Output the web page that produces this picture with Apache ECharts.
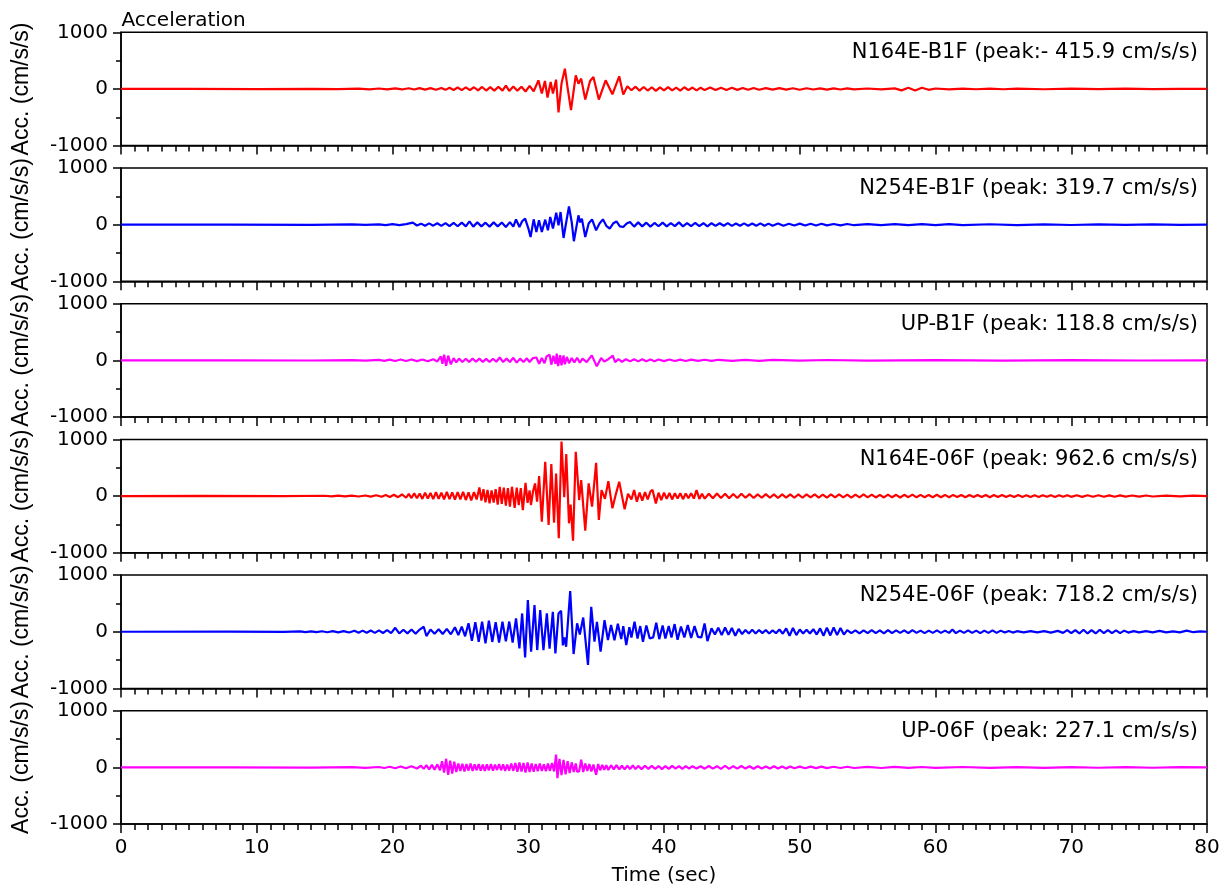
<!DOCTYPE html>
<html>
<head>
<meta charset="utf-8">
<script src="https://cdn.jsdelivr.net/npm/echarts@6/dist/echarts.min.js"></script>
<style>
  html, body { margin: 0; padding: 0; background: #fff; }
  #chart { width: 1229px; height: 890px; }
</style>
</head>
<body>
<div id="chart"></div>
<script>
// Acceleration records, [time (sec), acceleration (cm/s/s)] at successive turning points.
const n164eB1F = [
  [0,0],[5,2],[10,-2],[14,3],[16,-4],[17.5,5],[18.3,-6],[19.0,8],[19.6,-8],[20.2,10],[20.7,-9],[21.2,12],[21.6,-10],
  [22.0,14],[22.4,-12],[22.8,15],[23.2,-14],[23.6,18],[23.9,-16],[24.2,22],[24.5,-18],[24.8,25],[25.1,-20],[25.4,28],
  [25.7,-22],[26.0,30],[26.3,-25],[26.6,35],[26.9,-28],[27.2,32],[27.5,-30],[27.8,40],[28.1,-30],[28.35,60],[28.6,-35],
  [28.9,45],[29.2,-30],[29.5,40],[29.8,-45],[30.1,55],[30.4,-40],[30.75,152],[31.0,-82],[31.23,141],[31.42,-152],
  [31.65,123],[31.82,-82],[32.05,164],[32.23,-415.9],[32.45,95],[32.55,60],[32.7,358],[32.9,20],[33.15,-375],[33.5,240],
  [33.7,94],[33.9,182],[34.2,-188],[34.55,141],[34.8,211],[35.2,-188],[35.7,152],[36.2,-94],[36.7,223],[37.0,-100],
  [37.3,47],[37.6,-23],[37.9,40],[38.2,-30],[38.5,35],[38.8,-28],[39.1,30],[39.4,-35],[39.7,28],[40.0,-25],[40.3,32],
  [40.6,-25],[40.9,25],[41.2,-28],[41.5,30],[41.8,-22],[42.1,25],[42.4,-25],[42.7,22],[43.0,-20],[43.4,24],[43.8,-20],
  [44.2,22],[44.6,-18],[45.0,20],[45.4,-16],[45.8,18],[46.2,-15],[46.6,16],[47.0,-15],[47.5,14],[48.0,-12],[48.5,15],
  [49.0,-12],[49.5,12],[50.0,-14],[50.5,12],[51.0,-10],[51.5,10],[52.0,-12],[52.5,10],[53.0,-10],[53.5,9],[54.0,-8],
  [55,8],[56,-8],[57,10],[57.5,-25],[58,20],[58.5,-28],[59,22],[59.5,-15],[60,8],[61,-6],[62,6],[63,-5],[64,6],[65,-5],
  [66,5],[68,-5],[70,5],[72,-4],[74,4],[76,-4],[78,3],[80,0]
];

const n254eB1F = [
  [0,0],[8,2],[14,-3],[17,4],[18,-5],[19,6],[19.5,-7],[20.0,8],[20.5,-8],[21.0,10],[21.5,35],[21.8,-15],[22.1,18],
  [22.4,-20],[22.7,22],[23.0,-18],[23.3,25],[23.6,-22],[23.9,28],[24.2,-25],[24.5,30],[24.8,-28],[25.1,35],[25.4,-30],
  [25.67,59],[25.95,-35],[26.25,40],[26.55,-30],[26.85,35],[27.15,-35],[27.45,40],[27.75,-30],[28.05,38],[28.35,-40],
  [28.65,45],[28.9,-35],[29.1,94],[29.35,-41],[29.55,60],[29.77,106],[30.0,-60],[30.17,-217],[30.4,94],[30.6,-129],
  [30.79,76],[31.0,-129],[31.25,88],[31.45,-100],[31.62,135],[31.82,-70],[32.06,211],[32.23,-12],[32.38,223],[32.6,-235],
  [32.8,47],[33.0,319.7],[33.2,47],[33.36,-293],[33.7,164],[33.82,40],[33.95,106],[34.2,-217],[34.45,20],[34.7,94],
  [35.0,-100],[35.25,20],[35.5,94],[35.75,-20],[36.0,-70],[36.25,20],[36.5,59],[36.75,-30],[37.0,-41],[37.25,20],
  [37.5,47],[37.8,-35],[38.1,40],[38.4,-30],[38.7,35],[39.0,-35],[39.3,30],[39.6,-28],[39.9,35],[40.2,-30],[40.5,28],
  [40.8,-25],[41.1,40],[41.4,-30],[41.7,28],[42.0,-25],[42.3,30],[42.6,-25],[42.9,25],[43.2,-30],[43.5,25],[43.8,-22],
  [44.1,25],[44.4,-20],[44.7,28],[45.0,-22],[45.3,20],[45.6,-20],[45.9,22],[46.2,-18],[46.5,20],[46.8,-18],[47.1,22],
  [47.4,-20],[47.7,18],[48.0,-18],[48.4,20],[48.8,-18],[49.2,16],[49.6,-15],[50.0,18],[50.4,-15],[50.8,15],[51.2,-14],
  [51.6,15],[52.0,-12],[52.5,12],[53.0,-12],[53.5,12],[54,-10],[55,10],[56,-10],[57,9],[58,-9],[59,9],[60,-8],[61,8],
  [62,-8],[64,7],[66,-7],[68,6],[70,-6],[72,6],[74,-5],[76,5],[78,-4],[80,0]
];

const upB1F = [
  [0,0],[8,2],[14,-3],[17,5],[18,-6],[19,8],[19.4,-10],[19.8,12],[20.2,-12],[20.6,14],[21.0,-12],[21.4,15],[21.8,-14],
  [22.2,16],[22.6,-15],[23.0,18],[23.3,-20],[23.56,70],[23.68,-60],[23.8,100],[23.95,-94],[24.1,82],[24.3,-70],[24.5,40],
  [24.7,-35],[24.9,30],[25.15,-30],[25.4,28],[25.65,-30],[25.9,32],[26.15,-25],[26.4,30],[26.65,-28],[26.9,25],
  [27.15,-30],[27.4,28],[27.65,-25],[27.9,50],[28.15,-30],[28.4,30],[28.65,-28],[28.9,45],[29.15,-40],[29.4,30],
  [29.65,-30],[29.9,35],[30.1,-30],[30.35,40],[30.6,50],[30.8,-60],[31.0,40],[31.2,-50],[31.35,70],[31.57,100],
  [31.7,-76],[31.85,80],[32.0,-60],[32.1,118.8],[32.2,-100],[32.35,90],[32.45,-88],[32.6,85],[32.7,-70],[32.85,60],
  [33.0,-50],[33.2,40],[33.4,-35],[33.6,45],[33.8,-40],[34.0,30],[34.3,-30],[34.68,88],[35.05,-106],[35.37,41],
  [35.6,-20],[35.9,20],[36.23,82],[36.4,-30],[36.65,20],[36.9,-25],[37.2,20],[37.5,-18],[37.8,20],[38.1,-18],[38.4,18],
  [38.7,-16],[39.0,16],[39.3,-15],[39.6,15],[40.0,-14],[40.4,14],[40.8,-12],[41.2,12],[41.6,-12],[42.0,12],[42.5,-10],
  [43,10],[43.5,-10],[44,10],[45,-8],[46,8],[47,-8],[48,8],[50,-6],[52,6],[55,-5],[60,5],[65,-4],[70,4],[75,-3],[80,0]
];

const n164e06F = [
  [0,0],[6,3],[12,-3],[15,5],[15.5,-6],[16,7],[16.5,-7],[17,9],[17.5,-8],[18,10],[18.4,-10],[18.8,14],[19.2,-12],
  [19.5,18],[19.8,-16],[20.1,22],[20.4,-20],[20.7,28],[21.0,-30],[21.2,40],[21.4,-35],[21.6,50],[21.8,-40],[22.0,45],
  [22.2,-50],[22.4,60],[22.6,-45],[22.8,55],[23.0,-55],[23.2,70],[23.4,-50],[23.6,60],[23.8,-60],[24.0,75],[24.2,-55],
  [24.4,65],[24.6,-65],[24.8,70],[25.0,-60],[25.2,75],[25.4,-70],[25.6,65],[25.8,-75],[26.0,70],[26.2,-60],[26.4,153],
  [26.55,-80],[26.7,120],[26.85,-110],[27.0,110],[27.15,-130],[27.3,100],[27.45,-117],[27.6,120],[27.75,-150],
  [27.9,164],[28.05,-140],[28.2,150],[28.35,-170],[28.5,140],[28.65,-188],[28.8,164],[29.0,-210],[29.15,150],
  [29.3,-160],[29.45,140],[29.6,-247],[29.8,235],[29.95,-120],[30.1,100],[30.2,-158],[30.35,80],[30.5,223],
  [30.65,-100],[30.8,352],[31.0,-452],[31.25,605],[31.5,-511],[31.7,564],[31.9,-470],[32.05,399],[32.25,-746],
  [32.45,962.6],[32.65,-20],[32.8,740],[33.0,-481],[33.12,-150],[33.3,-787],[33.5,781],[33.75,-70],[33.9,282],
  [34.2,-611],[34.45,223],[34.7,-188],[35.0,587],[35.2,-423],[35.4,106],[35.65,-50],[35.9,264],[36.2,-217],[36.45,30],
  [36.7,253],[37.1,-235],[37.35,40],[37.6,-60],[37.8,106],[38.0,-100],[38.2,60],[38.4,-80],[38.6,70],[38.8,-60],
  [39.0,80],[39.15,110],[39.4,-129],[39.6,60],[39.8,-70],[40.0,60],[40.2,-50],[40.4,55],[40.6,-60],[40.8,50],
  [41.0,-45],[41.2,50],[41.4,-55],[41.6,45],[41.8,-40],[42.0,50],[42.2,-45],[42.4,106],[42.6,-50],[42.8,40],[43.0,-45],
  [43.3,40],[43.6,-40],[43.9,45],[44.2,-35],[44.5,40],[44.8,-40],[45.1,35],[45.4,-35],[45.7,40],[46.0,-30],[46.3,35],
  [46.6,-35],[46.9,30],[47.2,-30],[47.5,35],[47.8,-30],[48.1,30],[48.4,-35],[48.7,30],[49.0,-28],[49.3,30],[49.6,-30],
  [49.9,28],[50.2,-30],[50.5,30],[50.8,-25],[51.1,30],[51.4,-28],[51.7,25],[52.0,-28],[52.3,30],[52.6,-25],[52.9,28],
  [53.2,-25],[53.5,25],[53.8,-28],[54.1,25],[54.4,-25],[54.7,28],[55.0,-22],[55.3,25],[55.6,-25],[55.9,22],[56.2,-25],
  [56.5,25],[56.8,-22],[57.1,22],[57.4,-25],[57.7,22],[58.0,-20],[58.3,25],[58.6,-22],[58.9,20],[59.2,-22],[59.5,20],
  [59.8,-20],[60.1,22],[60.4,-20],[60.7,20],[61.0,-22],[61.3,20],[61.6,-18],[61.9,20],[62.2,-20],[62.5,18],[62.8,-18],
  [63.1,20],[63.4,-18],[63.7,18],[64.0,-20],[64.3,18],[64.6,-16],[64.9,18],[65.2,-18],[65.5,16],[65.8,-16],[66.1,18],
  [66.4,-15],[66.7,16],[67.0,-16],[67.3,15],[67.6,-15],[67.9,16],[68.2,-14],[68.5,15],[68.8,-15],[69.1,14],[69.4,-14],
  [69.7,15],[70.0,-14],[70.4,14],[70.8,-14],[71.2,14],[71.6,-12],[72.0,14],[72.4,-12],[72.8,12],[73.2,-12],[73.6,12],
  [74.0,-10],[74.5,10],[75.0,-10],[75.5,10],[76.0,-8],[77,8],[78,-6],[79,6],[80,0]
];

const n254e06F = [
  [0,0],[8,2],[12,-3],[13.2,5],[13.6,-6],[14.0,8],[14.4,-7],[14.8,9],[15.2,-9],[15.6,10],[16.0,-10],[16.4,12],
  [16.8,-14],[17.2,18],[17.5,-16],[17.8,20],[18.1,-18],[18.4,22],[18.7,-20],[19.0,25],[19.3,-22],[19.6,28],[19.9,-25],
  [20.2,70],[20.5,-30],[20.8,35],[21.1,-28],[21.4,40],[21.7,-35],[22.0,38],[22.3,88],[22.5,-76],[22.8,40],[23.1,-35],
  [23.4,45],[23.7,-40],[24.0,50],[24.3,-45],[24.6,80],[24.85,-60],[25.1,90],[25.35,-80],[25.6,150],[25.85,-160],
  [26.1,170],[26.35,-176],[26.6,176],[26.85,-205],[27.1,194],[27.35,-180],[27.6,170],[27.85,-190],[28.1,176],
  [28.35,-170],[28.6,180],[28.85,-190],[29.1,235],[29.35,-294],[29.55,323],[29.77,-452],[29.97,558],[30.21,-352],
  [30.46,470],[30.66,-323],[30.88,382],[31.12,-323],[31.37,323],[31.57,-300],[31.81,352],[32.0,-382],[32.23,323],
  [32.42,370],[32.55,-240],[32.67,-100],[32.79,-264],[33.09,718.2],[33.34,-393],[33.6,150],[33.8,-50],[34.05,250],
  [34.4,-587],[34.64,440],[34.88,-176],[35.06,176],[35.33,-352],[35.62,205],[35.87,-147],[36.1,120],[36.35,-150],
  [36.6,140],[36.85,-130],[37.0,100],[37.22,-235],[37.45,80],[37.6,-100],[37.83,176],[38.05,-120],[38.25,100],
  [38.45,-176],[38.7,110],[38.95,-120],[39.2,-100],[39.43,158],[39.65,-130],[39.9,110],[40.1,-120],[40.35,100],
  [40.55,-100],[40.78,135],[41.0,-140],[41.25,90],[41.5,-100],[41.75,120],[42.0,-110],[42.25,100],[42.5,-90],
  [42.75,-100],[42.99,147],[43.2,-164],[43.5,60],[43.75,-50],[44.0,70],[44.25,-60],[44.5,75],[44.75,-55],[45.0,65],
  [45.25,-70],[45.5,50],[45.75,-40],[46.0,30],[46.25,-30],[46.5,35],[46.75,-30],[47.0,30],[47.25,-25],[47.5,30],
  [47.75,-30],[48.0,25],[48.25,-25],[48.5,40],[48.75,-35],[49.0,60],[49.25,-70],[49.5,65],[49.75,-60],[50.0,40],
  [50.25,-30],[50.5,35],[50.75,-30],[51.0,45],[51.25,-50],[51.5,60],[51.75,-70],[52.0,70],[52.25,-65],[52.5,75],
  [52.75,-60],[53.0,65],[53.25,-50],[53.5,30],[53.8,-25],[54.1,25],[54.4,-30],[54.7,25],[55.0,-25],[55.3,30],
  [55.6,-25],[55.9,25],[56.2,-30],[56.5,30],[56.8,-25],[57.1,25],[57.4,-20],[57.7,25],[58.0,-25],[58.3,30],[58.6,-20],
  [58.9,20],[59.2,-25],[59.5,20],[59.8,-20],[60.1,25],[60.4,-20],[60.7,20],[61.0,-20],[61.25,40],[61.5,-25],[61.8,20],
  [62.1,-20],[62.4,25],[62.7,-20],[63.0,20],[63.3,-25],[63.6,20],[63.9,-20],[64.2,25],[64.5,-20],[64.8,20],[65.1,-15],
  [65.4,15],[65.7,-15],[66.0,10],[66.5,-12],[67.0,10],[67.5,-12],[68.0,12],[68.5,-15],[69.0,15],[69.4,-20],[69.7,30],
  [70.0,-25],[70.3,30],[70.6,-30],[70.9,35],[71.2,-30],[71.5,30],[71.8,-30],[72.1,35],[72.4,-25],[72.7,30],[73.0,-25],
  [73.3,25],[73.6,-25],[73.9,20],[74.2,-15],[74.6,12],[75.0,-12],[75.5,10],[76.0,-10],[76.5,15],[77.0,-10],[77.5,8],
  [78.0,-10],[78.5,20],[79.0,-8],[79.5,8],[80,0]
];

const up06F = [
  [0,0],[8,2],[14,-3],[17,5],[18,-6],[19,8],[19.4,-10],[19.8,12],[20.2,-14],[20.6,16],[21.0,-15],[21.4,20],[21.8,-18],
  [22.1,30],[22.3,-25],[22.5,40],[22.7,-35],[22.9,45],[23.1,-40],[23.3,55],[23.5,-50],[23.65,110],[23.8,-90],
  [23.95,153],[24.1,-129],[24.25,120],[24.4,-110],[24.55,100],[24.7,-80],[24.85,70],[25.0,-60],[25.15,65],[25.3,-70],
  [25.45,60],[25.6,-55],[25.75,70],[25.9,-60],[26.05,55],[26.2,-50],[26.35,60],[26.5,-55],[26.65,50],[26.8,-60],
  [26.95,55],[27.1,-50],[27.25,60],[27.4,-55],[27.55,50],[27.7,-45],[27.85,60],[28.0,-50],[28.15,55],[28.3,-60],
  [28.45,50],[28.6,-55],[28.75,70],[28.9,-60],[29.05,80],[29.2,-75],[29.35,88],[29.5,-70],[29.65,80],[29.8,-90],
  [29.95,88],[30.1,-80],[30.25,70],[30.4,-75],[30.55,60],[30.7,-65],[30.85,70],[31.0,-60],[31.15,55],[31.3,-65],
  [31.45,70],[31.6,-60],[31.75,80],[31.9,-70],[32.05,227.1],[32.15,-188],[32.3,150],[32.45,-135],[32.6,135],
  [32.75,-120],[32.9,110],[33.05,-100],[33.2,90],[33.35,-80],[33.5,70],[33.6,-75],[33.75,-70],[33.9,135],[34.05,-80],
  [34.2,70],[34.35,-60],[34.5,60],[34.65,-70],[34.8,50],[35.0,-129],[35.15,60],[35.3,-50],[35.45,45],[35.6,-40],
  [35.75,40],[35.9,-45],[36.1,40],[36.3,-35],[36.5,40],[36.7,-35],[36.9,30],[37.1,-35],[37.3,30],[37.5,-30],[37.7,35],
  [37.9,-30],[38.1,28],[38.35,-30],[38.6,30],[38.85,-25],[39.1,28],[39.35,-25],[39.6,25],[39.85,-30],[40.1,25],
  [40.35,-25],[40.6,28],[40.85,-22],[41.1,22],[41.35,-25],[41.6,22],[41.85,-20],[42.1,22],[42.4,-20],[42.7,20],
  [43.0,-22],[43.3,25],[43.6,-20],[43.9,22],[44.2,-25],[44.5,30],[44.8,-25],[45.1,22],[45.4,-20],[45.7,25],[46.0,-20],
  [46.3,20],[46.6,-22],[46.9,20],[47.2,-18],[47.5,18],[47.8,-20],[48.1,22],[48.4,-18],[48.7,18],[49.0,-20],[49.3,18],
  [49.6,-15],[50.0,15],[50.4,-15],[50.8,15],[51.2,-12],[51.6,14],[52.0,-12],[52.5,12],[53.0,-10],[53.5,12],[54.0,-10],
  [55,10],[56,-10],[57,10],[58,-8],[59,8],[60,-8],[62,8],[64,-6],[66,6],[68,-6],[70,6],[72,-5],[74,5],[76,-5],[78,4],
  [80,0]
];

const channelNames = ['N164E-B1F', 'N254E-B1F', 'UP-B1F', 'N164E-06F', 'N254E-06F', 'UP-06F'];
const channelData = [n164eB1F, n254eB1F, upB1F, n164e06F, n254e06F, up06F];
const channelColors = ['#ff0000', '#0000ff', '#ff00ff', '#ff0000', '#0000ff', '#ff00ff'];
const yTicks = [-1000, 0, 1000];
const xTicks = [0, 80, 10];

// Panel geometry
const FONT = 'DejaVu Sans';
const plotLeft = 121;
const plotWidth = 1086;
const firstTop = 32.3;
const panelPitch = 135.7;
const panelHeight = 113.3;

// Peak value of a record: the sample with the largest magnitude
function peakOf(rec) {
  let best = 0;
  rec.forEach(p => { if (Math.abs(p[1]) > Math.abs(best)) best = p[1]; });
  return best;
}
function peakText(name, rec) {
  const v = peakOf(rec);
  return name + ' (peak:' + (v < 0 ? '- ' : ' ') + Math.abs(v).toFixed(1) + ' cm/s/s)';
}

const axisStyle = { color: '#000', width: 1.5 };
const grids = [], xAxes = [], yAxes = [], series = [], graphics = [];

channelNames.forEach((name, i) => {
  const top = firstTop + panelPitch * i;
  const last = i === channelNames.length - 1;
  grids.push({
    left: plotLeft, top: top, width: plotWidth, height: panelHeight,
    show: true, borderColor: '#000', borderWidth: 1.5, backgroundColor: 'transparent'
  });
  xAxes.push({
    gridIndex: i, type: 'value', position: 'bottom',
    min: xTicks[0], max: xTicks[1], interval: xTicks[2],
    axisLine: { show: true, onZero: false, lineStyle: axisStyle },
    axisTick: { show: true, inside: false, length: 9, lineStyle: axisStyle },
    minorTick: { show: true, splitNumber: 10, length: 6, lineStyle: axisStyle },
    splitLine: { show: false },
    minorSplitLine: { show: false },
    axisLabel: { show: last, color: '#000', fontFamily: FONT, fontSize: 20, margin: 14,
                 formatter: v => String(v) },
    name: last ? 'Time (sec)' : '',
    nameLocation: 'middle', nameGap: 42,
    nameTextStyle: { color: '#000', fontFamily: FONT, fontSize: 20 }
  });
  yAxes.push({
    gridIndex: i, type: 'value',
    min: yTicks[0], max: yTicks[2], interval: yTicks[2] - yTicks[1],
    axisLine: { show: true, onZero: false, lineStyle: axisStyle },
    axisTick: { show: true, inside: false, length: 8, lineStyle: axisStyle },
    minorTick: { show: true, splitNumber: 2, length: 5, lineStyle: axisStyle },
    splitLine: { show: false },
    minorSplitLine: { show: false },
    axisLabel: { color: '#000', fontFamily: FONT, fontSize: 20, margin: 13,
                 formatter: v => String(v) },
    name: 'Acc. (cm/s/s)',
    nameLocation: 'middle', nameGap: 88,
    nameTextStyle: { color: '#000', fontFamily: 'Liberation Sans', fontSize: 23 }
  });
  series.push({
    type: 'line', name: name, xAxisIndex: i, yAxisIndex: i,
    data: channelData[i], showSymbol: false, symbol: 'none',
    lineStyle: { color: channelColors[i], width: 2.2 },
    clip: true, silent: true
  });
  graphics.push({
    type: 'text', x: 1198, y: top + 20.5,
    style: {
      text: peakText(name, channelData[i]),
      fill: '#000', font: '21px "' + FONT + '"',
      align: 'right', verticalAlign: 'middle'
    }
  });
});

graphics.push({
  type: 'text', x: 121.5, y: 21,
  style: { text: 'Acceleration', fill: '#000', font: '20px "' + FONT + '"', align: 'left', verticalAlign: 'middle' }
});

const chart = echarts.init(document.getElementById('chart'), null, { renderer: 'canvas' });
chart.setOption({
  backgroundColor: '#fff',
  animation: false,
  grid: grids,
  xAxis: xAxes,
  yAxis: yAxes,
  series: series,
  graphic: graphics
});
</script>
</body>
</html>
